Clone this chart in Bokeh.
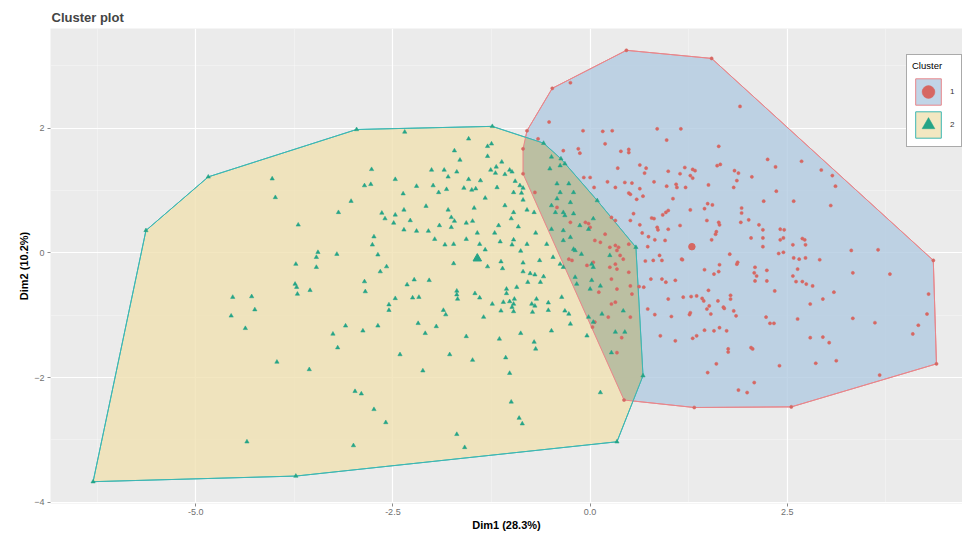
from bokeh.plotting import figure
from bokeh.models import FixedTicker, Legend, LegendItem, Range1d
from bokeh.embed import file_html
from bokeh.resources import INLINE

# ---------------- data ----------------
c1_x = [0.46, 1.54, 4.35, 4.39, 2.55, 1.32, 0.43, -0.85, -0.80, -0.48,
        -0.25, 1.90, -0.52, -0.09, 0.16, 0.28, 0.85, 1.15, 0.97, -0.66,
        -0.34, -0.15, -0.13, 0.19, 0.39, 0.49, 0.49, 1.63, 2.25, 2.35,
        2.68, 2.93, 3.07, 3.11, 0.35, 0.63, 0.71, 0.69, 0.99, 1.20,
        1.30, 1.33, 1.65, 1.61, 1.83, 1.88, 2.05, 1.14, 1.27, 1.30,
        -0.08, 0.00, 0.05, 0.22, 0.32, 0.44, 0.53, 0.63, 0.81, 0.97,
        1.09, 1.10, 1.21, 1.50, 1.82, 1.86, 2.36, 2.58, 2.20, 3.05,
        0.49, 0.51, 0.59, 0.67, 1.05, 1.27, 1.45, 1.49, 1.55, 1.92,
        1.92, 0.27, 0.32, 0.51, 0.55, 0.78, 0.81, 0.92, 0.96, 0.99,
        0.85, 0.86, 0.99, 1.14, 1.48, 1.63, 1.64, 1.59, 1.60, 1.54,
        1.91, 2.01, 2.14, 2.19, 2.41, 2.46, 2.41, 2.45, 2.04, 2.19,
        2.69, 2.72, 2.57, 2.73, 2.19, 2.39, 2.45, 2.58, 2.65, 2.73,
        2.91, 3.31, 3.65, 3.33, 3.80, 4.29, 4.27, 4.16, 4.09, 3.67,
        3.61, 3.33, 3.09, 2.95, 2.79, 2.63, 2.79, 2.95, 3.03, 2.86,
        3.12, 2.40, 2.57, 2.61, 2.69, 2.74, 2.82, 2.63, 2.28, 2.33,
        2.23, 2.34, 2.24, 2.24, 2.09, 2.08, 2.11, 2.09, 1.87, 1.77,
        1.86, 1.64, 1.63, 1.57, 1.45, 1.35, 1.42, 1.44, 1.48, 1.51,
        1.53, 1.62, 1.69, 1.70, 1.78, 1.78, 1.82, 1.85, 1.50, 1.28,
        1.27, 1.26, 1.18, 0.99, 1.03, 0.82, 0.73, 0.89, 1.08, 1.30,
        1.35, 1.45, 1.57, 1.64, 1.73, 1.75, 1.75, 2.04, 2.06, 1.60,
        1.49, 2.08, 1.88, 1.99, 0.68, 0.62, 0.77, 0.91, 0.96, 1.08,
        0.70, 0.80, 0.88, 0.91, 1.16, 1.17, 0.73, 0.95, 0.82, 0.74,
        0.66, 0.63,
        -0.85, -0.70, -0.42, -0.25, -0.06, -0.02, 0.00, 0.13, 0.19, 0.06,
        0.25, 0.32, 0.36, 0.34, 0.38, 0.49, -0.27, -0.23, -0.04, 0.04,
        0.25, 0.32, 0.34, 0.42, 0.49, 0.27, 0.34, 0.11, 0.51, 0.53,
        0.27, 0.32, 0.23, 0.06, 0.03, 0.40, 0.34, 0.51]
c1_y = [3.25, 3.12, -0.12, -1.78, -2.47, -2.48, -2.36, 1.27, 1.96, 2.64,
        2.73, 2.35, 2.10, 1.96, 1.95, 1.96, 1.99, 1.99, 1.81, 1.83,
        1.64, 1.67, 1.60, 1.75, 1.63, 1.66, 1.61, 1.71, 1.50, 1.38,
        1.47, 1.33, 1.24, 1.07, 1.36, 1.41, 1.36, 1.28, 1.31, 1.37,
        1.34, 1.32, 1.42, 1.40, 1.32, 1.28, 1.22, 1.27, 1.24, 1.20,
        1.21, 1.21, 1.05, 1.14, 1.05, 1.13, 1.12, 1.03, 1.14, 1.07,
        1.10, 1.05, 1.05, 1.09, 1.05, 1.16, 0.99, 0.83, 0.83, 0.76,
        0.96, 0.94, 0.86, 0.91, 0.87, 0.69, 0.71, 0.79, 0.77, 0.72,
        0.64, 0.57, 0.52, 0.52, 0.63, 0.56, 0.55, 0.61, 0.65, 0.68,
        0.41, 0.37, 0.38, 0.44, 0.52, 0.49, 0.45, 0.30, 0.34, 0.21,
        0.49, 0.53, 0.45, 0.37, 0.38, 0.37, 0.21, 0.24, 0.24, 0.24,
        0.23, 0.21, 0.13, 0.13, 0.10, -0.01, 0.01, -0.08, -0.10, -0.08,
        -0.11, 0.04, 0.05, -0.32, -0.34, -0.66, -0.98, -1.16, -1.30, -1.96,
        -1.12, -1.05, -0.63, -0.74, -0.82, -1.06, -1.36, -1.35, -1.44, -1.77,
        -1.73, -1.81, -0.37, -0.46, -0.46, -0.50, -0.53, -0.26, -1.13, -1.13,
        -1.03, -0.61, -0.45, -0.28, -0.23, -0.32, -0.37, -0.45, -0.15, -0.02,
        -0.18, -0.19, -0.30, -0.34, -0.27, -0.69, -0.73, -0.77, -0.90, -0.85,
        -0.98, -0.77, -0.87, -0.89, -0.68, -0.74, -0.93, -1.01, -0.60, -0.70,
        -0.96, -0.99, -0.71, -0.74, -1.02, -0.99, -0.90, -1.33, -1.41, -1.37,
        -1.33, -1.24, -1.25, -1.20, -1.25, -1.54, -1.59, -1.52, -1.54, -1.78,
        -1.92, -2.08, -2.20, -2.24, -0.55, -0.54, -0.42, -0.42, -0.47, -0.44,
        -0.13, -0.12, -0.04, -0.12, -0.10, -0.11, 0.10, 0.20, 0.21, 0.26,
        0.32, 0.45,
        1.67, 0.97, 0.73, 0.49, 0.49, 0.47, 0.41, 0.17, 0.30, 0.20,
        0.09, 0.12, 0.09, 0.04, -0.04, 0.14, -0.10, -0.12, -0.20, -0.15,
        -0.23, -0.18, -0.26, -0.10, -0.31, -0.42, -0.58, -0.63, -0.53, -0.66,
        -0.82, -0.79, -1.03, -1.11, -1.19, -1.36, -1.60, -1.03]

c2_x = [-6.30, -5.63, -4.84, -2.96, -1.24, -0.59, -0.37, 0.09, 0.58, 0.67,
        0.34, -3.73, -4.53, -4.55, -4.37, -4.35,
        -2.35, -1.54, -1.25, -1.30, -1.72, -1.30, -1.65, -1.12, -2.77, -2.01,
        -1.85, -1.69, -1.26, -1.19, -1.02, -0.99, -1.80, -1.54, -1.39, -1.20,
        -1.08, -4.03, -2.47, -2.86, -2.78, -2.20, -1.99, -1.82, -1.60, -1.50,
        -1.45, -1.18, -0.95, -0.89, -0.85, -3.99, -3.03, -2.37, -1.92, -1.33,
        -0.97, -0.87, -0.85, -2.08, -1.80, -2.36, -3.19, -2.64, -2.60, -2.47,
        -2.49, -2.28, -1.76, -1.72, -1.57, -1.49, -1.47, -1.08, -0.97, -1.00,
        -0.80, -0.71, -3.70, -2.36, -2.20, -2.05, -1.91, -1.76, -1.43, -1.16,
        -1.21, -0.91, -0.69, -2.74, -2.76, -1.97, -1.84, -1.73, -1.57, -1.40,
        -1.33, -1.14, -0.97, -0.99, -0.80, -0.55, -0.88, -3.45, -3.47, -3.21,
        -2.69, -3.73, -3.47, -2.58, -2.66, -1.73, -1.30, -1.13, -1.11, -0.85,
        -0.64, -0.85, -0.76, -0.70, -0.59, -0.63, -0.79, -3.74, -3.72, -3.71,
        -3.55, -2.86, -2.85, -2.32, -2.23, -2.04, -1.06, -0.93, -1.06, -1.69,
        -1.69, -1.68, -1.46, -1.40, -2.47, -2.25, -2.17, -1.10, -1.02, -0.96,
        -0.97, -1.24, -1.13, -0.99, -0.97, -0.74, -0.70, -0.68, -0.73, -0.53,
        -0.53, -4.29, -4.25, -2.55, -2.55, -1.86, -1.83, -1.35, -3.10, -2.88,
        -2.69, -3.26, -2.18, -2.09, -1.95, -1.57, -1.15, -0.88, -0.71, -0.69,
        -3.20, -2.41, -1.78, -1.49, -1.07, -3.97, -3.56, -2.12, -1.02, -2.98,
        -2.90, -2.74, -2.59, -1.00, -0.90, -0.86, -1.69, -1.59, -3.00,
        -0.49, -0.38, -0.32, -0.51, -0.42, -0.27, -0.38, -0.21, -0.42, -0.25,
        -0.49, -0.44, -0.34, -0.32, -0.21, -0.49, -0.34, -0.25, -0.13, 0.04,
        -0.02, -0.34, -0.21, -0.19, -0.47, -0.38, -0.34, -0.11, 0.25, 0.02,
        0.04, -0.19, -0.17, 0.00, 0.02, 0.13, -0.36, -0.32, -0.27, -0.25,
        -0.49, -0.02, 0.15, 0.04, 0.42, 0.32, 0.44, -0.04, 0.27, 0.13]
c2_y = [-3.67, 0.36, 1.22, 1.98, 2.03, 1.76, 1.51, 0.84, 0.09, -1.97,
        -3.03, -3.58, -0.71, -1.01, -1.21, -3.03,
        1.94, 1.83, 1.75, 1.71, 1.64, 1.55, 1.49, 1.46, 1.34, 1.33,
        1.33, 1.30, 1.33, 1.38, 1.33, 1.30, 1.22, 1.18, 1.16, 1.28,
        1.26, 1.19, 1.18, 1.08, 1.10, 1.07, 1.08, 1.02, 1.04, 1.01,
        1.03, 1.05, 1.15, 1.08, 1.04, 0.89, 0.83, 0.95, 0.97, 0.88,
        0.97, 0.96, 0.85, 0.75, 0.69, 0.69, 0.65, 0.64, 0.55, 0.61,
        0.48, 0.52, 0.57, 0.51, 0.48, 0.51, 0.72, 0.76, 0.65, 0.55,
        0.69, 0.65, 0.45, 0.37, 0.35, 0.35, 0.44, 0.41, 0.32, 0.44,
        0.32, 0.42, 0.32, 0.26, 0.13, 0.22, 0.13, 0.14, 0.22, 0.14,
        0.05, 0.18, 0.21, 0.13, 0.14, 0.14, 0.03, 0.01, -0.07, -0.02,
        -0.03, -0.18, -0.23, -0.22, -0.30, -0.17, -0.22, -0.14, -0.25, -0.16,
        -0.12, -0.30, -0.33, -0.35, -0.38, -0.47, -0.47, -0.50, -0.55, -0.66,
        -0.60, -0.46, -0.62, -0.51, -0.43, -0.44, -0.58, -0.55, -0.65, -0.61,
        -0.67, -0.74, -0.65, -0.72, -0.73, -0.72, -0.71, -0.79, -0.78, -0.74,
        -0.82, -0.82, -0.93, -0.87, -0.94, -0.82, -0.85, -0.74, -0.95, -0.80,
        -0.92, -0.70, -0.91, -0.83, -0.92, -0.92, -0.99, -1.03, -1.17, -1.25,
        -1.17, -1.30, -1.13, -1.29, -1.18, -1.34, -1.38, -1.29, -1.43, -1.54,
        -1.52, -1.63, -1.63, -1.72, -1.68, -1.75, -1.87, -1.89, -1.93, -2.22,
        -2.26, -2.51, -2.72, -2.39, -2.65, -2.74, -2.91, -3.12, -3.09,
        1.54, 1.40, 1.43, 1.35, 1.11, 1.11, 0.97, 0.97, 0.87, 0.81,
        0.76, 0.65, 0.65, 0.60, 0.63, 0.38, 0.36, 0.25, 0.44, 0.55,
        0.38, 0.20, 0.06, 0.04, -0.07, -0.18, -0.23, -0.02, -0.04, -0.18,
        -0.23, -0.39, -0.50, -0.58, -0.44, -0.53, -0.71, -0.93, -0.98, -1.14,
        -1.25, -1.03, -0.98, -1.11, -0.93, -1.27, -1.27, -1.33, -1.60, -2.24]

centre_x = [1.29, -1.43]
centre_y = [0.10, -0.09]
cluster_labels = ["1", "2"]
x_ticks = [-5.0, -2.5, 0.0, 2.5]
y_ticks = [-4, -2, 0, 2]

# ---------------- geometry helpers ----------------
def cross(o, a, b):
    return (a[0] - o[0]) * (b[1] - o[1]) - (a[1] - o[1]) * (b[0] - o[0])

def convex_hull(xs, ys):
    pts = sorted(set(zip(xs, ys)))
    lower, upper = [], []
    for q in pts:
        while len(lower) >= 2 and cross(lower[-2], lower[-1], q) <= 0:
            lower.pop()
        lower.append(q)
    for q in reversed(pts):
        while len(upper) >= 2 and cross(upper[-2], upper[-1], q) <= 0:
            upper.pop()
        upper.append(q)
    return lower[:-1] + upper[:-1]

def clip(subject, clipper):
    out = list(subject)
    n = len(clipper)
    for i in range(n):
        a, b = clipper[i], clipper[(i + 1) % n]
        inp, out = out, []
        if not inp:
            break
        s = inp[-1]
        for e in inp:
            ce, cs = cross(a, b, e), cross(a, b, s)
            if ce >= 0:
                if cs < 0:
                    t = cs / (cs - ce)
                    out.append((s[0] + t * (e[0] - s[0]), s[1] + t * (e[1] - s[1])))
                out.append(e)
            elif cs >= 0:
                t = cs / (cs - ce)
                out.append((s[0] + t * (e[0] - s[0]), s[1] + t * (e[1] - s[1])))
            s = e
    return out

h1 = convex_hull(c1_x, c1_y)
h2 = convex_hull(c2_x, c2_y)
ov = clip(h2, h1)

# ---------------- styles ----------------
red_pt = "#D66762"
teal_pt = "#25A487"
red_line = "#E8868B"
teal_line = "#3DB7B3"
blue_fill = "#B2CAE1"
yellow_fill = "#F0E1B2"
overlap_fill = "#B0B79B"
FONT = "Liberation Sans"

p = figure(width=962, height=540, x_range=Range1d(-6.84, 4.72), y_range=Range1d(-4.02, 3.60),
           output_backend="svg", toolbar_location=None, title="Cluster plot",
           min_border_left=50, min_border_right=0, min_border_top=28, min_border_bottom=37)
p.background_fill_color = "#EBEBEB"
p.border_fill_color = "white"
p.outline_line_color = None

p.title.text_font = FONT
p.title.text_font_size = "13px"
p.title.text_font_style = "bold"
p.title.align = "left"
p.title.standoff = 7
p.title.offset = 1

for ax, ticks, minor in ((p.xaxis[0], x_ticks, [-6.25, -3.75, -1.25, 1.25, 3.75]),
                         (p.yaxis[0], y_ticks, [-3, -1, 1, 3])):
    ax.ticker = FixedTicker(ticks=ticks, minor_ticks=minor)
    ax.axis_line_color = None
    ax.major_tick_line_color = "#8A8A8A"
    ax.major_tick_out = 3
    ax.major_tick_in = 0
    ax.minor_tick_line_color = None
    ax.major_label_text_font = FONT
    ax.major_label_text_font_size = "9px"
    ax.major_label_text_color = "#707070"
    ax.major_label_standoff = 1
    ax.axis_label_text_font = FONT
    ax.axis_label_text_font_size = "11px"
    ax.axis_label_text_font_style = "bold"
    ax.axis_label_text_color = "black"
    ax.axis_label_standoff = 1

p.yaxis[0].major_label_standoff = 2
p.xaxis[0].major_label_overrides = {t: f"{t:.1f}" for t in x_ticks}
p.xaxis[0].axis_label = "Dim1 (28.3%)"
p.yaxis[0].axis_label = "Dim2 (10.2%)"

for g in (p.xgrid[0], p.ygrid[0]):
    g.grid_line_color = "white"
    g.grid_line_width = 1.2
    g.minor_grid_line_color = "white"
    g.minor_grid_line_alpha = 0.5
    g.minor_grid_line_width = 0.6

# hull fills
patch1 = p.patch([q[0] for q in h1], [q[1] for q in h1], fill_color=blue_fill, fill_alpha=0.8,
                 line_color=red_line, line_width=1)
patch2 = p.patch([q[0] for q in h2], [q[1] for q in h2], fill_color=yellow_fill, fill_alpha=0.8,
                 line_color=teal_line, line_width=1)
p.patch([q[0] for q in ov], [q[1] for q in ov], fill_color=overlap_fill, fill_alpha=0.8, line_color=None)
# hull outlines on top
p.line([q[0] for q in h1] + [h1[0][0]], [q[1] for q in h1] + [h1[0][1]], line_color=red_line, line_width=1)
p.line([q[0] for q in h2] + [h2[0][0]], [q[1] for q in h2] + [h2[0][1]], line_color=teal_line, line_width=1)

# points
sc1 = p.scatter(c1_x, c1_y, marker="circle", size=3.2, fill_color=red_pt, line_color=red_pt, line_width=0.5)
sc2 = p.scatter(c2_x, c2_y, marker="triangle", size=4.3, fill_color=teal_pt, line_color=teal_pt, line_width=0.5)
# centroids
p.scatter([centre_x[0]], [centre_y[0]], marker="circle", size=6.5, fill_color=red_pt, line_color=red_pt)
p.scatter([centre_x[1]], [centre_y[1]], marker="triangle", size=8.5, fill_color=teal_pt, line_color=teal_pt)

legend = Legend(items=[LegendItem(label=cluster_labels[0], renderers=[patch1, sc1]),
                       LegendItem(label=cluster_labels[1], renderers=[patch2, sc2])],
                location=(856, 356), title="Cluster")
legend.title_text_font = FONT
legend.title_text_font_size = "9.5px"
legend.title_text_font_style = "normal"
legend.title_text_color = "black"
legend.title_standoff = 4
legend.label_text_font = FONT
legend.label_text_font_size = "8px"
legend.label_text_color = "#333333"
legend.glyph_width = 32
legend.glyph_height = 33
legend.label_width = 6
legend.label_standoff = 6
legend.spacing = 0
legend.padding = 5
legend.margin = 0
legend.border_line_color = "#555555"
legend.border_line_width = 1
legend.background_fill_color = "white"
legend.background_fill_alpha = 1.0
p.add_layout(legend)

open("out.html", "w").write(file_html(p, INLINE))
